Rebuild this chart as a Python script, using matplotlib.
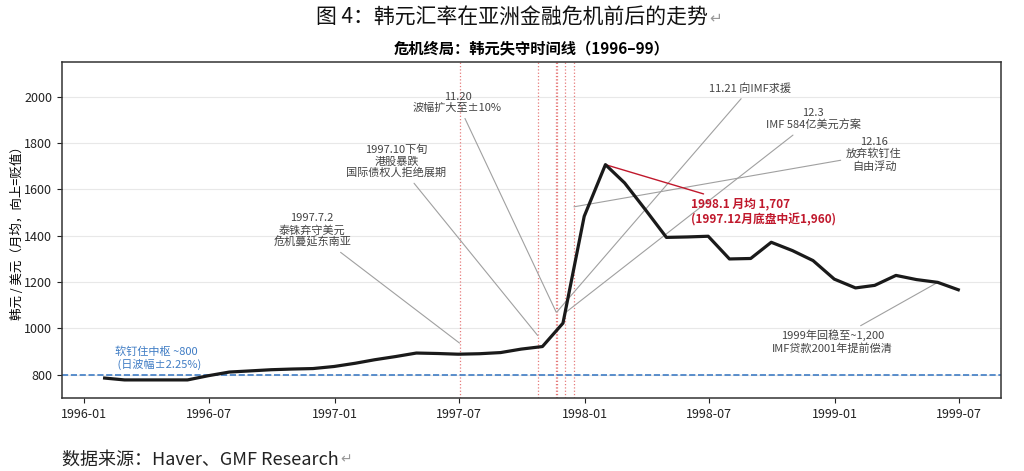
import numpy as np
import pandas as pd
import matplotlib
matplotlib.use("Agg")
from matplotlib import pyplot as plt

plt.rcParams['font.family'] = ['Noto Sans CJK SC', 'DejaVu Sans']
plt.rcParams['axes.unicode_minus'] = False

# monthly average KRW per USD (month-end stamps)
months = pd.date_range('1996-01-31', '1999-06-30', freq='ME')
krw = [786, 778, 778, 778, 778, 796, 812, 817, 822, 825, 827, 836,
       850, 865, 879, 894, 892, 889, 891, 896, 911, 922, 1023, 1484,
       1707, 1628, 1510, 1393, 1395, 1398, 1300, 1302, 1372, 1336, 1293, 1213,
       1175, 1186, 1229, 1211, 1199, 1167]

peg_level = 800
event_dates = pd.to_datetime(['1997-07-02', '1997-10-24', '1997-11-20',
                              '1997-11-21', '1997-12-03', '1997-12-16'])

# gray callouts
note_texts = ['1997.7.2\n泰铢弃守美元\n危机蔓延东南亚',
              '1997.10下旬\n港股暴跌\n国际债权人拒绝展期',
              '11.20\n波幅扩大至±10%',
              '11.21 向IMF求援',
              '12.3\nIMF 584亿美元方案',
              '12.16\n放弃软钉住\n自由浮动',
              '1999年回稳至~1,200\nIMF贷款2001年提前偿清']
note_xy_dates = pd.to_datetime(['1997-07-02', '1997-10-24', '1997-11-20',
                                '1997-11-21', '1997-12-03', '1997-12-16', '1999-05-31'])
note_xy_vals = [937, 970, 1071, 1071, 1067, 1525, 1199]
note_txt_dates = pd.to_datetime(['1996-11-29', '1997-04-01', '1997-06-29',
                                 '1998-08-30', '1998-11-30', '1999-02-27', '1998-12-28'])
note_txt_vals = [1422, 1720, 1975, 2036, 1902, 1751, 943]

peak_text = '1998.1 月均 1,707\n(1997.12月底盘中近1,960)'
peak_date = pd.Timestamp('1998-01-31')
peak_val = 1707
peak_txt_date = pd.Timestamp('1998-09-18')
peak_txt_val = 1504

peg_text = '软钉住中枢 ~800\n (日波幅±2.25%)'
peg_txt_date = pd.Timestamp('1996-02-15')
peg_txt_val = 870

fig = plt.figure(figsize=(10.24, 4.71), dpi=100)
ax = fig.add_axes([0.0605, 0.155, 0.917, 0.7134])

ax.grid(axis='y', color='#e8e8e8', lw=0.8)
ax.set_axisbelow(True)

for d in event_dates:
    ax.axvline(d, color='#e05a5a', ls=':', lw=0.9, alpha=0.8)

ax.axhline(peg_level, color='#3f7cc4', ls='--', lw=1.2)
ax.plot(months, krw, color='#1a1a1a', lw=2.3, zorder=5)

for t, xd, xv, td, tv in zip(note_texts, note_xy_dates, note_xy_vals,
                             note_txt_dates, note_txt_vals):
    ax.annotate(t, xy=(xd, xv), xytext=(td, tv), ha='center', va='center',
                fontsize=8, color='#444444', linespacing=1.15,
                arrowprops=dict(arrowstyle='-', color='#a0a0a0', lw=0.8,
                                shrinkA=2, shrinkB=0))

ax.annotate(peak_text, xy=(peak_date, peak_val), xytext=(peak_txt_date, peak_txt_val),
            ha='center', va='center', fontsize=8.5, color='#c0182c', fontweight='bold',
            multialignment='left', linespacing=1.2,
            arrowprops=dict(arrowstyle='-', color='#c0182c', lw=1.0, shrinkA=2, shrinkB=0))

ax.text(peg_txt_date, peg_txt_val, peg_text, ha='left', va='center',
        fontsize=8, color='#3f7cc4', linespacing=1.2)

ax.set_ylim(700, 2150)
ax.set_yticks(np.arange(800, 2001, 200))
ax.set_xticks(pd.to_datetime(['1996-01-01', '1996-07-01', '1997-01-01', '1997-07-01',
                              '1998-01-01', '1998-07-01', '1999-01-01', '1999-07-01']))
ax.set_xticklabels(['1996-01', '1996-07', '1997-01', '1997-07',
                    '1998-01', '1998-07', '1999-01', '1999-07'])
ax.tick_params(labelsize=9, colors='#222222')
ax.set_ylabel('韩元 / 美元（月均，向上=贬值）', fontsize=9, labelpad=0)
ax.set_title('危机终局：韩元失守时间线（1996–99）', fontsize=11, fontweight='bold', pad=6)
for s in ax.spines.values():
    s.set_color('#333333')
    s.set_linewidth(1.1)

cap = fig.text(0.5, 0.962, '图 4：韩元汇率在亚洲金融危机前后的走势', ha='center', va='center',
               fontsize=15, color='#111111')
src = fig.text(0.061, 0.025, '数据来源：Haver、GMF Research', ha='left', va='center',
               fontsize=13, color='#222222')

# return marks right after the caption and source texts
fig.canvas.draw()
r = fig.canvas.get_renderer()
for t, fs in [(cap, 11), (src, 10)]:
    bb = t.get_window_extent(renderer=r)
    x1 = bb.x1 / fig.bbox.width
    yc = (bb.y0 + bb.y1) / 2 / fig.bbox.height
    fig.text(x1 + 0.001, yc, '↵', ha='left', va='center', fontsize=fs,
             color='#999999', family='DejaVu Sans')

fig.savefig('out.png', dpi=100)
